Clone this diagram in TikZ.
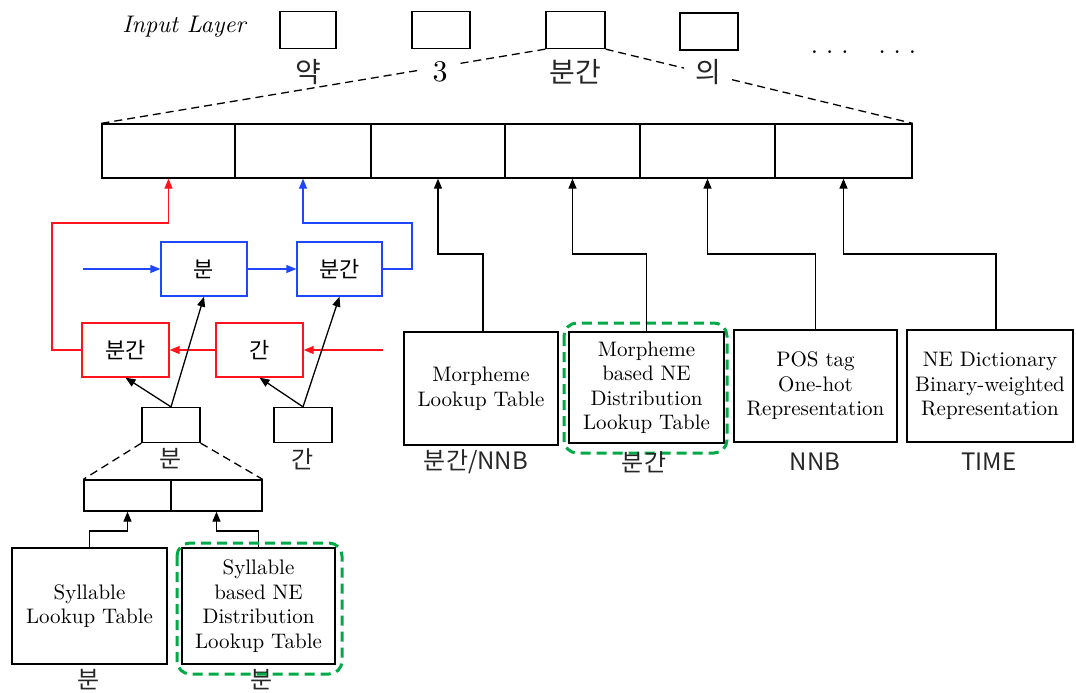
\documentclass[tikz,border=0pt]{standalone}
\usepackage{fontspec}
\newfontfamily\kr{Noto Sans CJK KR}
\newfontfamily\boxfont{lmroman10-regular.otf}
\newfontfamily\ilfont{lmroman10-italic.otf}
\usetikzlibrary{arrows.meta}
\definecolor{myred}{RGB}{255,20,30}
\definecolor{myblue}{RGB}{30,70,255}
\definecolor{mygreen}{RGB}{0,170,70}
\begin{document}
\begin{tikzpicture}[x=1pt,y=-1pt,
  box/.style={draw, line width=1.3pt, inner sep=0pt, align=center, font=\boxfont\fontsize{21}{24.5}\selectfont},
  cell/.style={draw, line width=1.3pt, inner sep=0pt},
  rbox/.style={draw=myred, line width=1.3pt, inner sep=0pt, minimum width=87pt, minimum height=54pt, font=\kr\fontsize{22}{24}\selectfont},
  bbox/.style={draw=myblue, line width=1.3pt, inner sep=0pt, minimum width=86pt, minimum height=54pt, font=\kr\fontsize{22}{24}\selectfont},
  arr/.style={-{Triangle[length=10pt,width=8pt]}, line width=1.3pt},
  dsh/.style={dashed, dash pattern=on 8pt off 5pt, line width=1.3pt},
  grn/.style={draw=mygreen, line width=3pt, dash pattern=on 10pt off 6pt, rounded corners=13pt},
  lab/.style={font=\kr\fontsize{24}{26}\selectfont, inner sep=1pt, text=black!85},
  toplab/.style={font=\kr\fontsize{28}{30}\selectfont, inner sep=1pt, text=black!85},
]
\useasboundingbox (0,0) rectangle (1076,693);

% input layer
\node[font=\ilfont\fontsize{24}{26}\selectfont] (il) at (184,27) {Input Layer};
\node[cell, minimum width=56pt, minimum height=37pt] (in1) at (308,30) {};
\node[cell, minimum width=58pt, minimum height=37pt] (in2) at (441,30) {};
\node[cell, minimum width=59pt, minimum height=37pt] (in3) at (575.5,30) {};
\node[cell, minimum width=58pt, minimum height=37pt] (in4) at (709,31.5) {};
\node[font=\boxfont\fontsize{26}{28}\selectfont, anchor=base] (dots) at (863.5,53) {.\hspace{8pt}.\hspace{8pt}.\hspace{30pt}.\hspace{8pt}.\hspace{8pt}.};

% embedding bar
\node[cell, minimum width=133pt, minimum height=54pt] (c1) at (168.5,151) {};
\node[cell, minimum width=136pt, minimum height=54pt] (c2) at (303,151) {};
\node[cell, minimum width=134pt, minimum height=54pt] (c3) at (438,151) {};
\node[cell, minimum width=135pt, minimum height=54pt] (c4) at (572.5,151) {};
\node[cell, minimum width=135pt, minimum height=54pt] (c5) at (707.5,151) {};
\node[cell, minimum width=137pt, minimum height=54pt] (c6) at (843.5,151) {};

\draw[dsh] (in3.south west) -- (c1.north west);
\draw[dsh] (in3.south east) -- (c6.north east);

\node[toplab] (l1) at (308,72) {약};
\node[font=\boxfont\fontsize{30}{32}\selectfont, fill=white, inner xsep=11pt, inner ysep=1pt] (l2) at (440,72) {3};
\node[toplab] (l3) at (575,72) {분간};
\node[toplab, fill=white, inner xsep=11pt] (l4) at (708,72) {의};

% bi-directional part
\node[bbox] (b1) at (204,269) {분};
\node[bbox, minimum width=85pt] (b2) at (339.5,269) {분간};
\node[rbox] (r1) at (125.5,350) {분간};
\node[rbox] (r2) at (259.5,350) {간};

\coordinate (bin) at (83,269);
\coordinate (rin) at (383,350);
\coordinate (bR) at (412,223);
\coordinate (rL) at (52,223);
\draw[arr, myblue] (bin) -- (b1.west);
\draw[arr, myblue] (b1.east) -- (b2.west);
\draw[arr, myblue] (b2.east) -| (bR) -| (c2.south);
\draw[arr, myred] (rin) -- (r2.east);
\draw[arr, myred] (r2.west) -- (r1.east);
\draw[arr, myred] (r1.west) -| (rL) -| (c1.south);

\node[cell, minimum width=58pt, minimum height=35pt] (s1) at (171,425) {};
\node[cell, minimum width=58pt, minimum height=35pt] (s2) at (303,425) {};
\node[lab] (ls1) at (171,459) {분};
\node[lab] (ls2) at (303,459) {간};
\draw[arr] (s1.north) -- (r1.south);
\draw[arr] (s1.north) -- (b1.south);
\draw[arr] (s2.north) -- (r2.south);
\draw[arr] (s2.north) -- (b2.south);

\node[cell, minimum width=87pt, minimum height=31pt] (d1) at (127.5,495.5) {};
\node[cell, minimum width=91pt, minimum height=31pt] (d2) at (216.5,495.5) {};
\draw[dsh] (s1.south west) -- (d1.north west);
\draw[dsh] (s1.south east) -- (d2.north east);

\node[box, minimum width=155pt, minimum height=116pt] (sy1) at (89.5,606) {Syllable\\Lookup Table};
\node[box, minimum width=153pt, minimum height=116pt] (sy2) at (258.5,606) {Syllable\\based NE\\Distribution\\Lookup Table};
\node[lab] (lsy1) at (89,680) {분};
\node[lab] (lsy2) at (262,680) {분};
\coordinate (e2) at (0,531);
\draw[arr] (sy1.north) -- (sy1.north |- e2) -| (d1.south);
\draw[arr] (sy2.north) -- (sy2.north |- e2) -| (d2.south);
\draw[grn] (177,543) rectangle (342,674);

% right feature boxes
\node[box, minimum width=154pt, minimum height=113pt] (m1) at (481,388.5) {Morpheme\\Lookup Table};
\node[box, minimum width=155pt, minimum height=111pt] (m2) at (646.5,387.5) {Morpheme\\based NE\\Distribution\\Lookup Table};
\node[box, minimum width=163pt, minimum height=112pt] (m3) at (815.5,386) {POS tag\\One-hot\\Representation};
\node[box, minimum width=166pt, minimum height=112pt] (m4) at (990,386) {NE Dictionary\\Binary-weighted\\Representation};
\draw[grn] (564,323) rectangle (727,453);

\node[lab] (lm1) at (476,462) {분간/NNB};
\node[lab] (lm2) at (644,462) {분간};
\node[lab] (lm3) at (815,462) {NNB};
\node[lab] (lm4) at (989,462) {TIME};

\coordinate (e1) at (0,254);
\draw[arr] ([xshift=2pt]m1.north) -- ([xshift=2pt]m1.north |- e1) -| (c3.south);
\draw[arr] (m2.north) -- (m2.north |- e1) -| (c4.south);
\draw[arr] (m3.north) -- (m3.north |- e1) -| (c5.south);
\draw[arr] ([xshift=6pt]m4.north) -- ([xshift=6pt]m4.north |- e1) -| (c6.south);
\end{tikzpicture}
\end{document}
